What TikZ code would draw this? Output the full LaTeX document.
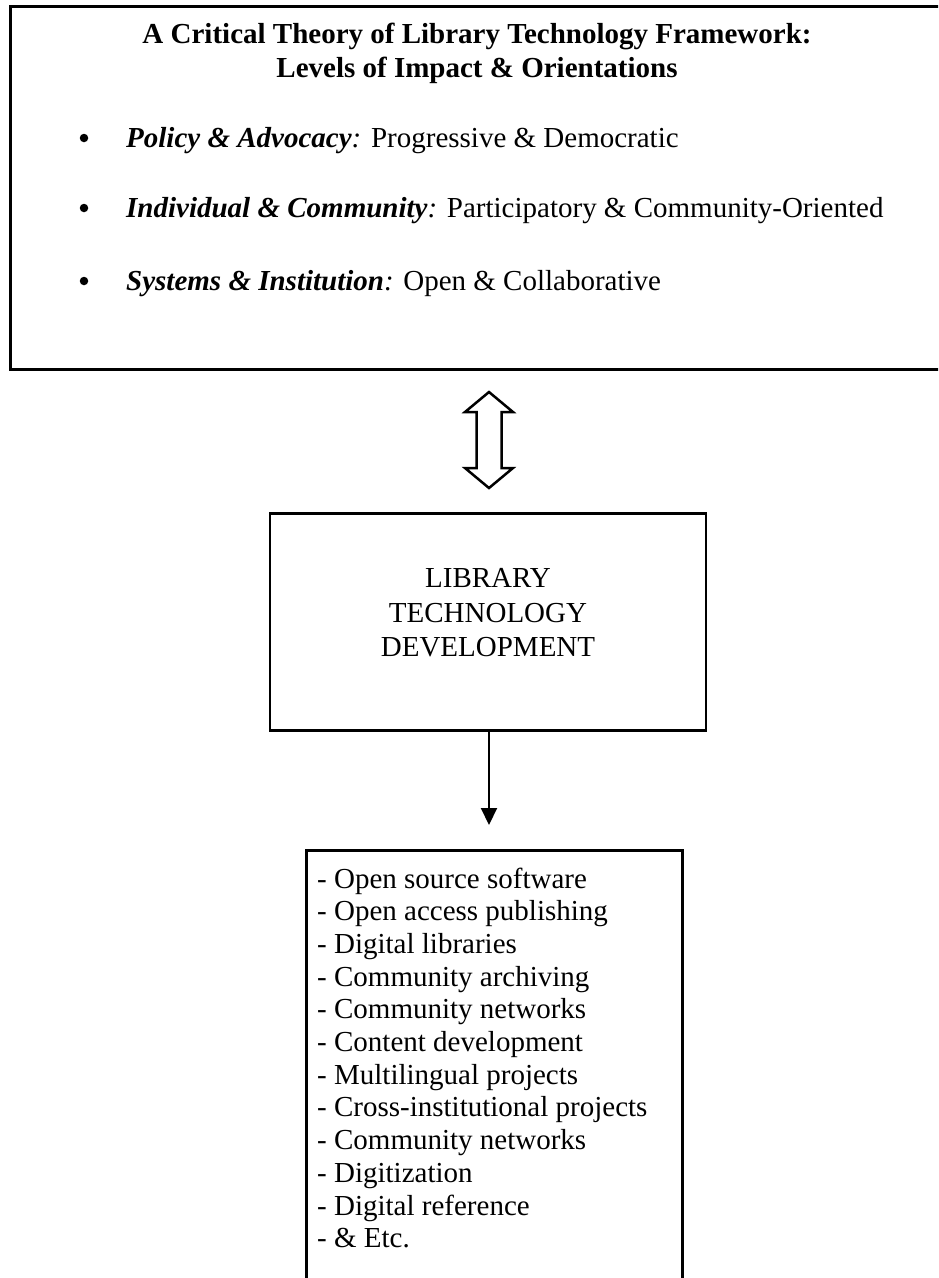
\documentclass[tikz,border=0pt]{standalone}
\usepackage{fontspec}
\setmainfont{Liberation Serif}
\usetikzlibrary{arrows.meta,calc}
\begin{document}
\begin{tikzpicture}[x=1pt,y=-1pt,
  frame/.style={draw, line width=2.6pt, inner sep=0pt},
  txt/.style={inner sep=0pt, font=\fontsize{29}{34}\selectfont},
  head/.style={txt, font=\fontsize{29}{34}\selectfont\bfseries},
  dot/.style={circle, fill, inner sep=0pt, minimum size=8.5pt}]
\useasboundingbox (0,0) rectangle (938,1278);
\clip (0,0) rectangle (938,1278);

% framework box (runs past the right edge of the page)
\node[frame, minimum width=937pt, minimum height=363pt, anchor=north west] (top) at (9,5) {};
\node[head, anchor=base] (title1) at (477,43) {A Critical Theory of Library Technology Framework:};
\node[head, anchor=base] (title2) at (477,77) {Levels of Impact \& Orientations};

\node[dot] (b1) at (84,138) {};
\node[txt, anchor=base west] (p1) at (126,147) {\textbf{\textit{Policy \& Advocacy}}\textit{:} Progressive \& Democratic};
\node[dot] (b2) at (84,208) {};
\node[txt, anchor=base west] (p2) at (126,217) {\textbf{\textit{Individual \& Community}}\textit{:} Participatory \& Community-Oriented};
\node[dot] (b3) at (84,281) {};
\node[txt, anchor=base west] (p3) at (126,290) {\textbf{\textit{Systems \& Institution}}\textit{:} Open \& Collaborative};

% development box
\node[frame, minimum width=436pt, minimum height=217pt, anchor=north] (mid) at (488,512) {};
\node[txt, anchor=base] (m1) at (488,587) {LIBRARY};
\node[txt, anchor=base] (m2) at (488,622) {TECHNOLOGY};
\node[txt, anchor=base] (m3) at (488,656) {DEVELOPMENT};

% two-way block arrow between the framework and the development box
\coordinate (dac) at ($(mid.north)+(1,-72)$);
\draw[line width=2.5pt, line join=miter]
  ($(dac)+(0,-48)$) -- ++(24,20) -- ++(-11.5,0) -- ++(0,56) -- ++(11.5,0)
  -- ++(-24,20) -- ++(-24,-20) -- ++(11.5,0) -- ++(0,-56) -- ++(-11.5,0) -- cycle;

% outcomes box (runs past the bottom edge of the page)
\node[frame, minimum width=376pt, minimum height=500pt, anchor=north west] (list) at (305,849) {};
\foreach \t [count=\i] in {Open source software, Open access publishing, Digital libraries,
    Community archiving, Community networks, Content development, Multilingual projects,
    Cross-institutional projects, Community networks, Digitization, Digital reference, \& Etc.}
  \node[txt, anchor=base west] (item\i) at (317,{888+32.7*(\i-1)}) {- \t};

% development leads to the outcomes
\draw[line width=2pt, -{Triangle[width=16pt,length=17pt]}]
  ($(mid.south)+(1,0)$) -- ($(list.north -| mid.south)+(1,-24)$);
\end{tikzpicture}
\end{document}
